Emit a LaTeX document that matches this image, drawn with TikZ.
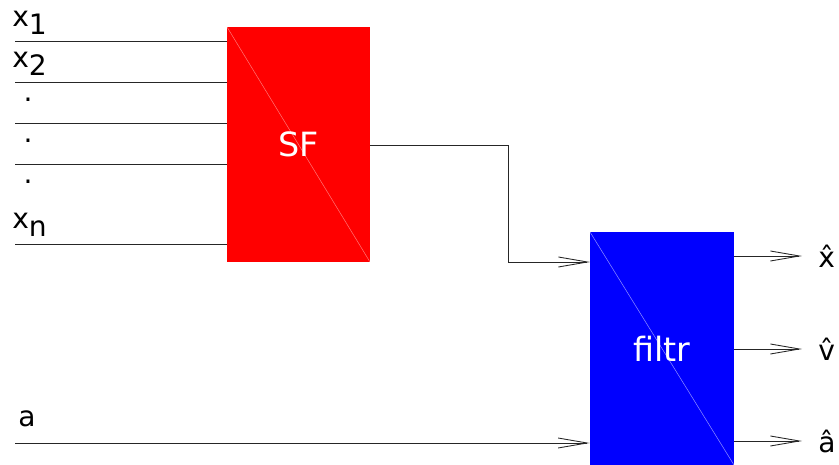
\documentclass[tikz,border=0pt]{standalone}
\usepackage{fontspec}
\setmainfont{DejaVu Sans}
\usepackage{tikz}
\usetikzlibrary{arrows.meta, positioning, calc}
\tikzset{
  blockbox/.style={rectangle, inner sep=0pt, text=white,
                   font=\fontsize{19}{21}\selectfont,
                   path picture={\draw[#1, line width=0.3pt]
                     (path picture bounding box.north west) --
                     (path picture bounding box.south east);}},
  wire/.style={draw=black!85, line width=0.5pt},
  arrow/.style={wire, -{Straight Barb[length=5.8mm, width=2mm, line width=0.5pt]}},
  lbl/.style={inner sep=0pt, font=\fontsize{16}{18}\selectfont},
}

\begin{document}
\begin{tikzpicture}[x=0.02cm, y=-0.02cm]
  \useasboundingbox (0,0) rectangle (839,465);

  % Blocks
  \node[blockbox=red!55!white, fill=red, minimum width=2.86cm,
        minimum height=4.7cm] (sf) at (298.5,144.5) {SF};
  \node[blockbox=blue!45!white, fill=blue, minimum width=2.88cm,
        minimum height=4.66cm] (filtr) at (662,348.5) {filtr};

  % Inputs
  \foreach \y [count=\i] in {41,82,123,164,244}
    \coordinate (in\i) at (15,\y);
  \foreach \i in {1,...,5}
    \draw[wire] (in\i) -- (in\i -| sf.west);

  \node[lbl, anchor=south west] (lx1) at (12,35) {x\raisebox{-0.5ex}{1}};
  \node[lbl, anchor=south west] (lx2) at (12,76) {x\raisebox{-0.5ex}{2}};
  \node[lbl] (d1) at (28,100) {.};
  \node[lbl] (d2) at (28,141) {.};
  \node[lbl] (d3) at (28,182) {.};
  \node[lbl, anchor=south west] (lxn) at (12,237) {x\raisebox{-0.5ex}{n}};

  \coordinate (ina) at (15,443);
  \node[lbl, anchor=south west] (la) at (18,427) {a};

  % SF -> filtr
  \coordinate (bend) at (508,145);
  \coordinate (fin) at (590,262);
  \draw[arrow] (sf.east |- bend) -- (bend) |- (fin);
  \draw[arrow] (ina) -- (ina -| filtr.west);

  % Outputs
  \foreach \y/\n/\t in {256/ox/x, 349/ov/v, 441/oa/a}{
    \coordinate (\n) at (802,\y);
    \draw[arrow] (\n -| filtr.east) -- (\n);
    \node[lbl, anchor=west] (l\n) at (818,\y) {\^{\t}};
  }

\end{tikzpicture}
\end{document}
